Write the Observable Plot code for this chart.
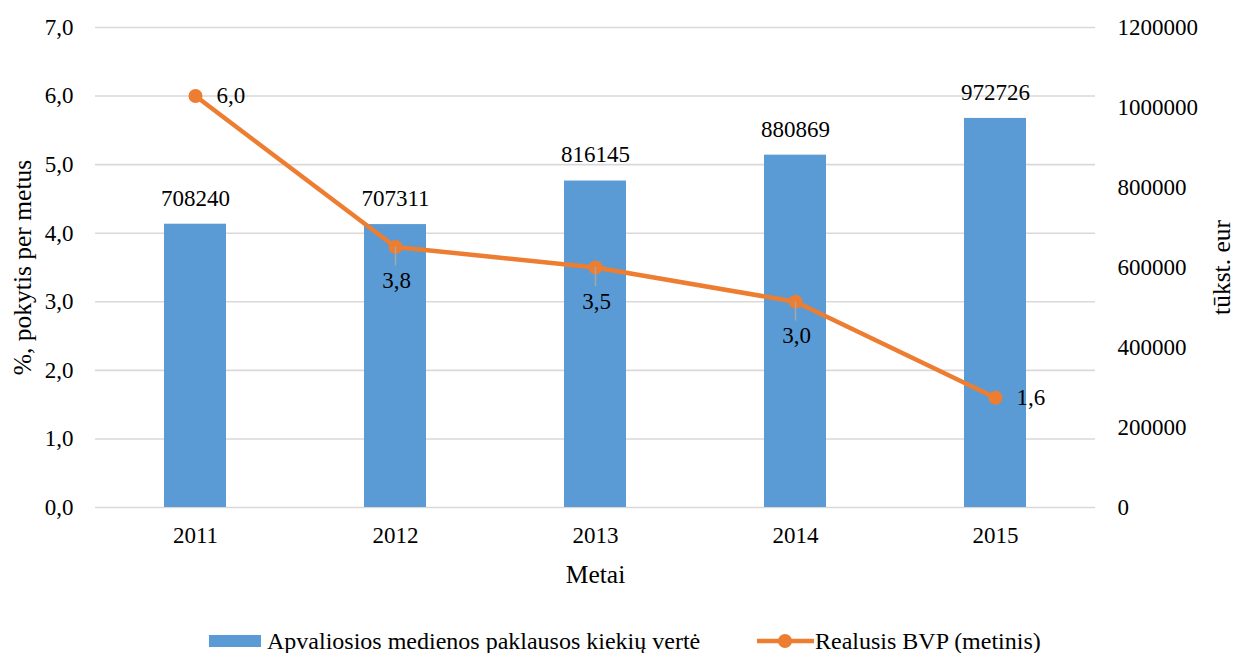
<!DOCTYPE html>
<html>
<head>
<meta charset="utf-8">
<script src="https://cdn.jsdelivr.net/npm/d3@7"></script>
<script src="https://cdn.jsdelivr.net/npm/@observablehq/plot@0.6"></script>
</head>
<body style="margin:0;background:#fff">
<div id="chart" style="position:relative;width:1238px;height:653px;font-family:'Liberation Serif';"></div>
<script>
const years = ["2011", "2012", "2013", "2014", "2015"];
const demandValue = [708240, 707311, 816145, 880869, 972726];
const gdpGrowth = [6.0, 3.8, 3.5, 3.0, 1.6];
const leftTicks = [0, 1, 2, 3, 4, 5, 6, 7];
const rightTicks = [0, 200000, 400000, 600000, 800000, 1000000, 1200000];
const barName = "Apvaliosios medienos paklausos kiekių vertė";
const lineName = "Realusis BVP (metinis)";
const xTitle = "Metai";
const yLeftTitle = "%, pokytis per metus";
const yRightTitle = "tūkst. eur";

const rightMax = 1200000, leftMax = 7;
const k = leftMax / rightMax;

const bars = years.map((y, i) => ({year: y, value: demandValue[i]}));
const pts = years.map((y, i) => ({year: y, value: gdpGrowth[i], i}));
const fmt1 = d => d.toFixed(1).replace(".", ",");
const sideLabel = d => d.i === 0 || d.i === years.length - 1;

const blue = "#5B9BD5", orange = "#ED7D31";
const FONT = "Liberation Serif";
const titleOpts = {fontSize: 25.5, fontFamily: FONT, fill: "#000", textAnchor: "middle", lineAnchor: "middle"};

const plot = Plot.plot({
  width: 1238,
  height: 605,
  marginLeft: 95,
  marginRight: 143,
  marginTop: 27,
  marginBottom: 98,
  style: "font-family: 'Liberation Serif'; font-size: 23px; color: #000; background: #fff;",
  x: {type: "band", domain: years, padding: 0},
  y: {domain: [0, leftMax]},
  marks: [
    Plot.gridY(leftTicks, {stroke: "#d9d9d9", strokeOpacity: 1, strokeWidth: 1.6}),
    Plot.axisY({ticks: leftTicks, tickSize: 0, tickPadding: 22, tickFormat: fmt1, fontFamily: FONT, label: null}),
    Plot.axisY({anchor: "right", ticks: rightTicks.map(v => v * k), tickSize: 0, tickPadding: 22, fontFamily: FONT,
      tickFormat: d => String(Math.round(d / k)), label: null}),
    Plot.axisX({tickSize: 0, tickPadding: 19, fontFamily: FONT, label: null}),
    Plot.text([yLeftTitle], {...titleOpts, frameAnchor: "left", rotate: -90, dx: -73}),
    Plot.text([yRightTitle], {...titleOpts, frameAnchor: "right", rotate: -90, dx: 126}),
    Plot.text([xTitle], {...titleOpts, frameAnchor: "bottom", dy: 67}),
    Plot.barY(bars, {x: "year", y: d => d.value * k, fill: blue, insetLeft: 69, insetRight: 69}),
    Plot.text(bars, {x: "year", y: d => d.value * k, text: d => String(d.value), dy: -26, fill: "#000", fontFamily: FONT}),
    Plot.line(pts, {x: "year", y: "value", stroke: orange, strokeWidth: 4.5}),
    Plot.dot(pts, {x: "year", y: "value", r: 7, fill: orange, stroke: "none"}),
    Plot.ruleX(pts.filter(d => !sideLabel(d)), {x: "year", y1: "value", y2: d => d.value - 0.28, stroke: "#a6a6a6", strokeWidth: 1.5}),
    Plot.text(pts.filter(sideLabel), {x: "year", y: "value", text: d => fmt1(d.value), textAnchor: "start", dx: 21, fill: "#000", fontFamily: FONT}),
    Plot.text(pts.filter(d => !sideLabel(d)), {x: "year", y: "value", text: d => fmt1(d.value), dy: 34, dx: 1, fill: "#000", fontFamily: FONT})
  ]
});
document.getElementById("chart").appendChild(plot);

const legend = document.createElement("div");
legend.style.cssText = "position:absolute;top:628px;left:0;width:1238px;height:26px;font-size:24px;color:#000;font-family:'Liberation Serif';";
legend.innerHTML = `
  <div style="position:absolute;top:0;left:209px;display:flex;align-items:center;height:26px;white-space:nowrap"><span style="display:inline-block;width:52px;height:12px;background:${blue};margin-right:6px"></span><span>${barName}</span></div>
  <div style="position:absolute;top:0;left:757px;display:flex;align-items:center;height:26px;white-space:nowrap"><svg width="57" height="16" style="margin-right:1px"><line x1="0" y1="8" x2="57" y2="8" stroke="${orange}" stroke-width="4.5"/><circle cx="28" cy="8" r="7" fill="${orange}"/></svg><span>${lineName}</span></div>`;
document.getElementById("chart").appendChild(legend);
</script>
</body>
</html>
